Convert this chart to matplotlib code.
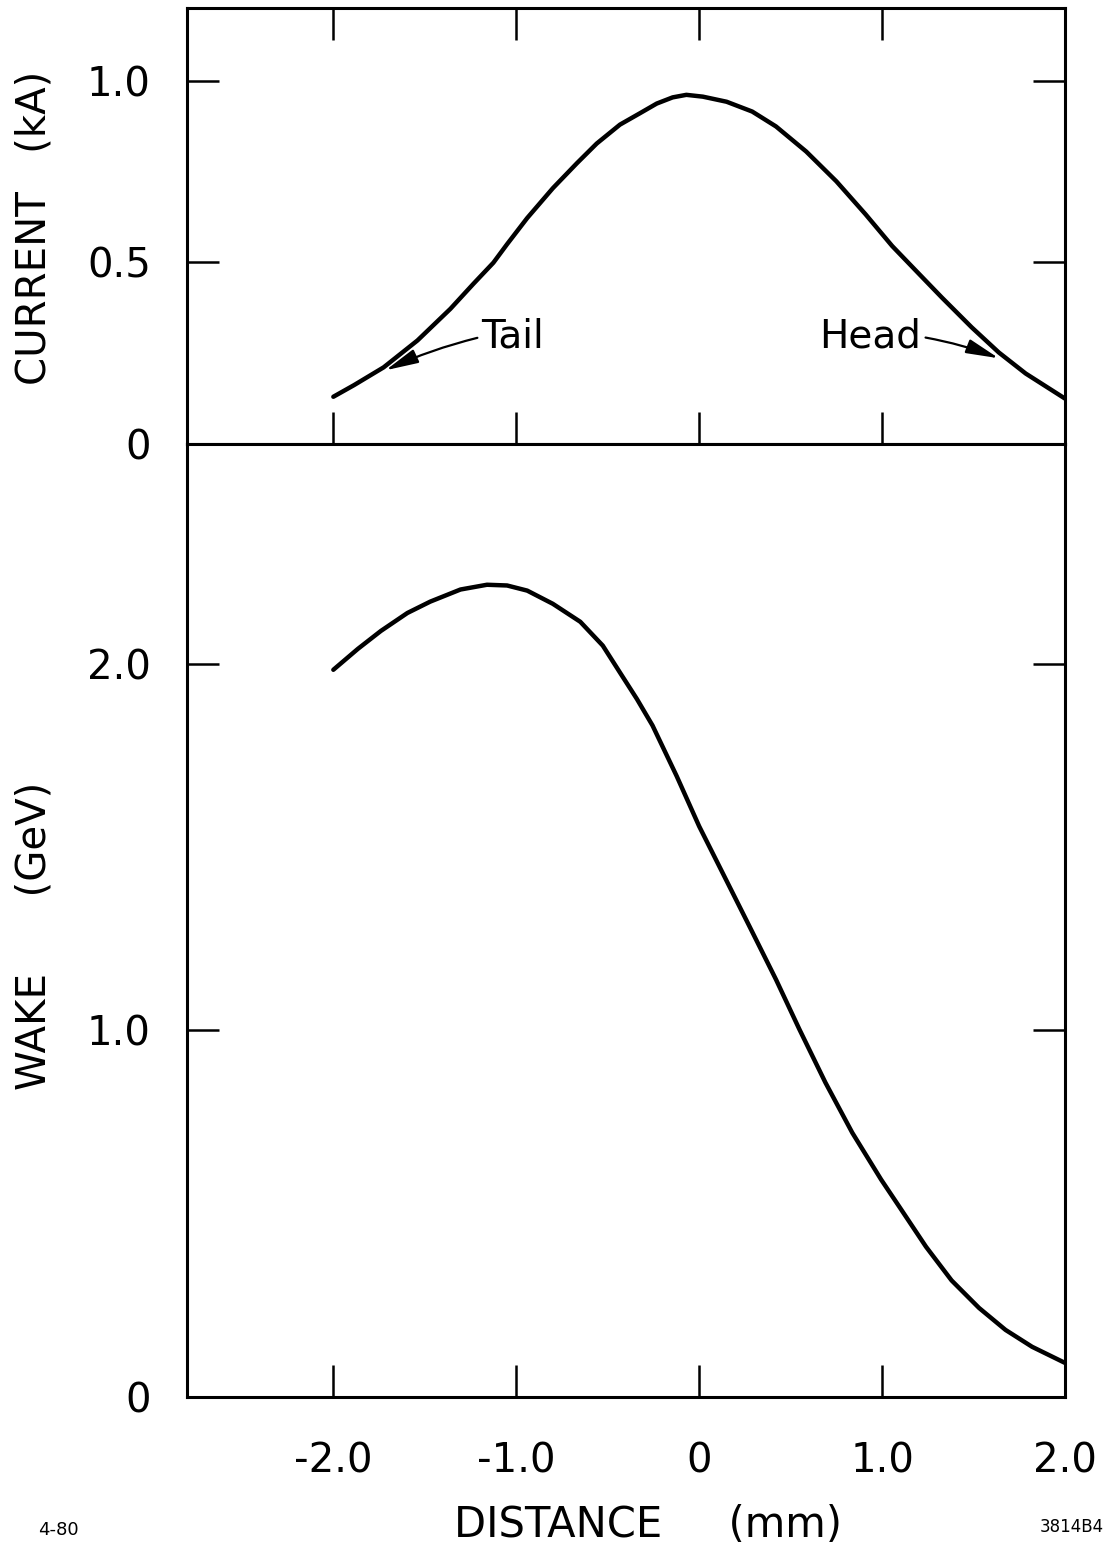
import numpy as np
import matplotlib
matplotlib.use('Agg')
import matplotlib.pyplot as plt

# current profile of the bunch (kA) vs distance (mm)
cur_x = [-2.0, -1.887, -1.725, -1.54, -1.36, -1.234, -1.125, -1.05, -0.94, -0.80,
         -0.668, -0.56, -0.433, -0.325, -0.232, -0.145, -0.07, 0.02, 0.15, 0.29,
         0.42, 0.585, 0.75, 0.91, 1.055, 1.185, 1.327, 1.49, 1.638, 1.785, 2.0]
cur_y = [0.130, 0.162, 0.211, 0.285, 0.372, 0.441, 0.499, 0.550, 0.622, 0.704,
         0.773, 0.827, 0.879, 0.910, 0.937, 0.954, 0.961, 0.956, 0.942, 0.915,
         0.874, 0.805, 0.723, 0.632, 0.545, 0.477, 0.403, 0.321, 0.252, 0.194, 0.125]

# wake (GeV) vs distance (mm)
wake_x = [-2.0, -1.866, -1.74, -1.595, -1.47, -1.305, -1.16, -1.05, -0.94, -0.80,
          -0.65, -0.527, -0.435, -0.34, -0.255, -0.123, 0.0, 0.128, 0.275, 0.42,
          0.548, 0.69, 0.837, 0.995, 1.093, 1.24, 1.38, 1.53, 1.675, 1.82, 2.0]
wake_y = [1.984, 2.041, 2.090, 2.139, 2.170, 2.203, 2.216, 2.214, 2.200, 2.164,
          2.115, 2.050, 1.978, 1.904, 1.832, 1.694, 1.557, 1.430, 1.284, 1.139,
          1.003, 0.858, 0.721, 0.593, 0.520, 0.410, 0.318, 0.243, 0.183, 0.137, 0.093]

xticks = [-2.0, -1.0, 0.0, 1.0, 2.0]
xticklabels = ['-2.0', '-1.0', '0', '1.0', '2.0']
cur_ticks = [0.0, 0.5, 1.0]
cur_ticklabels = ['0', '0.5', '1.0']
wake_ticks = [0.0, 1.0, 2.0]
wake_ticklabels = ['0', '1.0', '2.0']

plt.rcParams['font.family'] = ['DejaVu Sans']

W, H = 1112, 1549
fig = plt.figure(figsize=(W / 100, H / 100), dpi=100)

left = 187 / W
width = (1065 - 187) / W
ax1 = fig.add_axes([left, 1 - 444 / H, width, (444 - 8) / H])
ax2 = fig.add_axes([left, 1 - 1397 / H, width, (1397 - 444) / H])

for ax in (ax1, ax2):
    for s in ax.spines.values():
        s.set_linewidth(2.2)
    ax.set_xlim(-2.8, 2.0)
    ax.set_xticks(xticks)
    ax.tick_params(direction='in', length=23, width=1.8, labelsize=29)

# top panel: current
ax1.plot(cur_x, cur_y, color='k', lw=3.2, solid_capstyle='round', solid_joinstyle='round')
ax1.set_ylim(0, 1.2)
ax1.set_yticks(cur_ticks)
ax1.set_yticklabels(cur_ticklabels)
ax1.tick_params(axis='x', top=True, bottom=True, labelbottom=False)
ax1.tick_params(axis='y', left=True, right=True, pad=26)

arrow_style = '-|>,head_length=1.0,head_width=0.22'
ax1.annotate('Tail', xy=(-1.714, 0.203), xytext=(-1.19, 0.295),
             ha='left', va='center', fontsize=28,
             arrowprops=dict(arrowstyle=arrow_style, color='k', lw=1.6, relpos=(0, 0.5),
                             shrinkA=1, shrinkB=0, mutation_scale=20,
                             connectionstyle='arc3,rad=0.05'))
ax1.annotate('Head', xy=(1.638, 0.236), xytext=(1.215, 0.295),
             ha='right', va='center', fontsize=28,
             arrowprops=dict(arrowstyle=arrow_style, color='k', lw=1.6, relpos=(1, 0.5),
                             shrinkA=1, shrinkB=0, mutation_scale=20,
                             connectionstyle='arc3,rad=-0.05'))

# bottom panel: wake
ax2.plot(wake_x, wake_y, color='k', lw=3.2, solid_capstyle='round', solid_joinstyle='round')
ax2.set_ylim(0, 2.6)
ax2.set_yticks(wake_ticks)
ax2.set_yticklabels(wake_ticklabels)
ax2.set_xticklabels(xticklabels)
ax2.tick_params(axis='x', top=False, bottom=True, pad=32)
ax2.tick_params(axis='y', left=True, right=True, pad=26)

fig.text(35 / W, 1 - 228 / H, 'CURRENT   (kA)', rotation=90, ha='center', va='center', fontsize=29)
fig.text(35 / W, 1 - 936 / H, 'WAKE      (GeV)', rotation=90, ha='center', va='center', fontsize=29)
fig.text(648 / W, 1 - 1525 / H, 'DISTANCE     (mm)', ha='center', va='center', fontsize=30)
fig.text(58 / W, 1 - 1530 / H, '4-80', ha='center', va='center', fontsize=13)
fig.text(1072 / W, 1 - 1527 / H, '3814B4', ha='center', va='center', fontsize=12)

fig.savefig('out.png', dpi=100)
